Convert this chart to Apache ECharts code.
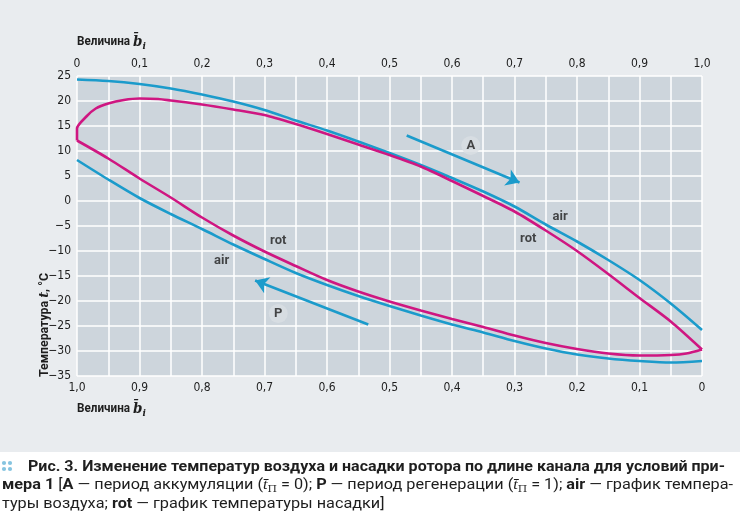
<!DOCTYPE html>
<html><head><meta charset="utf-8">
<script src="https://cdn.jsdelivr.net/npm/echarts@6/dist/echarts.min.js"></script>
<style>html,body{margin:0;padding:0;background:#fff}#c{width:746px;height:529px}</style>
</head><body><div id="c"></div>
<script>
// ---------- data (top axis b_i, temperature °C) ----------
const xMin = 0, xMax = 1, xStep = 0.1;
const yMin = -35, yMax = 25, yStep = 5;

const airUpper = [[0,24.3],[0.05,24.0],[0.1,23.4],[0.15,22.5],[0.2,21.3],[0.25,19.9],[0.3,18.2],[0.35,16.1],[0.4,14.1],[0.45,11.9],[0.5,9.6],[0.55,7.2],[0.6,4.6],[0.65,1.9],[0.7,-1.1],[0.75,-4.7],[0.8,-8.1],[0.85,-11.8],[0.9,-15.8],[0.95,-20.5],[1.0,-25.8]];
const airLower = [[0,8.2],[0.05,4.3],[0.1,0.6],[0.15,-2.6],[0.2,-5.6],[0.25,-8.7],[0.3,-11.6],[0.35,-14.4],[0.4,-16.8],[0.45,-19.0],[0.5,-21.0],[0.55,-22.9],[0.6,-24.7],[0.65,-26.3],[0.7,-28.0],[0.75,-29.5],[0.8,-30.7],[0.85,-31.5],[0.9,-32.0],[0.95,-32.3],[1.0,-32.0]];
const rotUpper = [[0,12.1],[0,14.5],[0.015,16.9],[0.03,18.5],[0.05,19.5],[0.075,20.2],[0.1,20.5],[0.13,20.4],[0.15,20.1],[0.2,19.3],[0.25,18.3],[0.3,17.2],[0.35,15.4],[0.4,13.4],[0.45,11.3],[0.5,9.2],[0.55,6.9],[0.6,4.0],[0.65,1.0],[0.7,-2.1],[0.75,-5.9],[0.8,-10.0],[0.85,-14.6],[0.9,-19.4],[0.95,-24.1],[1.0,-29.7]];
const rotLower = [[0,12.1],[0.05,8.5],[0.1,4.5],[0.15,0.7],[0.2,-3.3],[0.25,-6.9],[0.3,-10.1],[0.35,-13.0],[0.4,-15.8],[0.45,-18.1],[0.5,-20.1],[0.55,-21.9],[0.6,-23.6],[0.65,-25.2],[0.7,-26.9],[0.75,-28.4],[0.8,-29.6],[0.85,-30.5],[0.9,-30.9],[0.95,-30.8],[0.975,-30.5],[1.0,-29.7]];

const arrowA = [[0.5275,13.1],[0.708,3.7]];
const arrowP = [[0.466,-24.7],[0.285,-15.9]];

const curveLabels = [
  {name:'air', value:[0.773,-3.1]},
  {name:'rot', value:[0.722,-7.5]},
  {name:'rot', value:[0.322,-8.0]},
  {name:'air', value:[0.2315,-11.9]}
];
const periodLabels = [
  {name:'A', value:[0.63,11.1]},
  {name:'P', value:[0.322,-22.5]}
];

const axisTitle = 'Величина ';
const yTitle = ['Температура ', 't', ', °C'];
const captionLines = [
  [['Рис. 3. ','b'],['Изменение температур воздуха и насадки ротора по длине канала для условий при-','b']],
  [['мера 1 ','b'],['[','r'],['A','b'],[' — период аккумуляции (','r'],['t\u0304','i'],['П','s'],[' = 0); ','r'],['P','b'],[' — период регенерации (','r'],['t\u0304','i'],['П','s'],[' = 1); ','r'],['air','b'],[' — график темпера-','r']],
  [['туры воздуха; ','r'],['rot','b'],[' — график температуры насадки]','r']]
];

// ---------- styling ----------
const BLUE = '#1b9bcb', PINK = '#cf1681';
const TXT = '#1e1e1e';
const NARROW = "'Liberation Sans Narrow','DejaVu Sans Condensed',sans-serif";

const cv = document.createElement('canvas').getContext('2d');
function fontStr(f){ return (f.style||'normal')+' '+(f.weight||'normal')+' '+f.size+'px '+(f.family||'Roboto'); }
function measure(t,f){ cv.font = fontStr(f); return cv.measureText(t).width; }

function segGroup(x, y, segs, opts){
  let cx = 0; const children = [];
  segs.forEach(s => {
    const f = s.f;
    children.push({type:'text', x:cx, y:(s.dy||0), style:{text:s.t, fontSize:f.size, fontWeight:f.weight||'normal', fontStyle:f.style||'normal', fontFamily:f.family||'Roboto', fill:s.fill||TXT, verticalAlign:'middle', align:'left'}});
    cx += measure(s.t,f);
  });
  let sx = 1;
  if (opts && opts.width) sx = opts.width / cx;
  if (opts && opts.scale) sx = opts.scale;
  return {g:{type:'group', x:x, y:y, scaleX:sx, rotation:(opts&&opts.rotation)||0, children:children, silent:true}, w:cx, sx:sx};
}

const capFont = {
  b:{size:15, weight:'bold'},
  r:{size:15, weight:'normal'},
  i:{size:15, weight:'normal', style:'italic'},
  s:{size:10, weight:'normal', family:"'DejaVu Serif',serif"}
};
function capSegs(line){ return line.map(([t,k]) => ({t:t, f:capFont[k], dy: k==='s'?4:0})); }

const graphics = [];
graphics.push({type:'rect', shape:{x:0,y:0,width:740,height:452}, style:{fill:'#e9ecef'}, z:-10, silent:true});
// caption bullet dots
[[4,463],[10,463],[4,469],[10,469]].forEach(p => graphics.push({type:'circle', shape:{cx:p[0],cy:p[1],r:2.1}, style:{fill:'#86c4e0'}, silent:true}));
const l1 = segGroup(28, 467, capSegs(captionLines[0]), {width:697});
const l2 = segGroup(2, 485.5, capSegs(captionLines[1]), {width:731});
const l3 = segGroup(2, 504, capSegs(captionLines[2]), {scale:l2.sx});
graphics.push(l1.g, l2.g, l3.g);

function bTitle(x, y){
  return segGroup(x, y, [
    {t:axisTitle, f:{size:13, weight:'bold'}},
    {t:'b\u0304', f:{size:15, weight:'bold', style:'italic', family:"'DejaVu Serif',serif"}},
    {t:'i', f:{size:10, weight:'bold', style:'italic', family:"'DejaVu Serif',serif"}, dy:4}
  ], {scale:0.9}).g;
}
graphics.push(bTitle(77, 42), bTitle(77, 409));
const yt = segGroup(45, 377, [
  {t:yTitle[0], f:{size:12.5, weight:'bold'}},
  {t:yTitle[1], f:{size:13, weight:'bold', style:'italic', family:"'DejaVu Serif',serif"}},
  {t:yTitle[2], f:{size:12.5, weight:'bold'}}
], {width:104, rotation:Math.PI/2});
graphics.push(yt.g);

const xFmt = v => (Math.abs(v) < 1e-9 ? '0' : v.toFixed(1).replace('.', ','));
const yFmt = v => (v < 0 ? '\u2212' + Math.abs(v) : String(v));

const chart = echarts.init(document.getElementById('c'), null, {renderer:'canvas'});
chart.setOption({
  animation:false,
  backgroundColor:'#ffffff',
  graphic:graphics,
  grid:{left:77, right:44, top:76, bottom:153, show:true, backgroundColor:'#cdd5dc', borderWidth:0},
  xAxis:[
    {type:'value', position:'top', min:xMin, max:xMax, interval:xStep,
     axisLine:{show:false}, axisTick:{show:false},
     axisLabel:{formatter:xFmt, margin:6, color:TXT, fontSize:12, fontFamily:NARROW},
     splitLine:{show:true, lineStyle:{color:'#ffffff', width:1.5}},
     minorTick:{show:false, splitNumber:2},
     minorSplitLine:{show:true, lineStyle:{color:'#ffffff', width:1.5}}},
    {type:'value', position:'bottom', min:xMin, max:xMax, interval:xStep, inverse:true,
     axisLine:{show:false}, axisTick:{show:false}, splitLine:{show:false},
     axisLabel:{formatter:xFmt, margin:6, color:TXT, fontSize:12, fontFamily:NARROW}}
  ],
  yAxis:{type:'value', min:yMin, max:yMax, interval:yStep,
     axisLine:{show:false}, axisTick:{show:false},
     axisLabel:{formatter:yFmt, margin:6, color:TXT, fontSize:12, fontFamily:NARROW},
     splitLine:{show:true, lineStyle:{color:'#ffffff', width:1.5}}},
  series:[
    {type:'line', name:'air A', data:airUpper, xAxisIndex:0, showSymbol:false, smooth:0.3, lineStyle:{color:BLUE, width:2.6}, z:3},
    {type:'line', name:'air P', data:airLower, xAxisIndex:0, showSymbol:false, smooth:0.3, lineStyle:{color:BLUE, width:2.6}, z:3},
    {type:'line', name:'rot A', data:rotUpper, xAxisIndex:0, showSymbol:false, smooth:0.25, lineStyle:{color:PINK, width:2.6}, z:4},
    {type:'line', name:'rot P', data:rotLower, xAxisIndex:0, showSymbol:false, smooth:0.3, lineStyle:{color:PINK, width:2.6}, z:4},
    {type:'lines', coordinateSystem:'cartesian2d', xAxisIndex:0, polyline:false,
     symbol:['none','arrow'], symbolSize:13,
     lineStyle:{color:BLUE, width:2.6, opacity:1, curveness:0},
     data:[{coords:arrowA},{coords:arrowP}], z:5},
    {type:'scatter', data:periodLabels, xAxisIndex:0, symbol:'circle', symbolSize:19,
     itemStyle:{color:'#d9dfe3'},
     label:{show:true, position:'inside', formatter:p=>p.name, color:TXT, fontWeight:'bold', fontSize:13, fontFamily:'Roboto'}, z:6},
    {type:'scatter', data:curveLabels, xAxisIndex:0, symbolSize:0,
     label:{show:true, position:'inside', formatter:p=>p.name, color:TXT, fontWeight:'bold', fontSize:13, fontFamily:'Roboto'}, z:6}
  ]
});
</script></body></html>
